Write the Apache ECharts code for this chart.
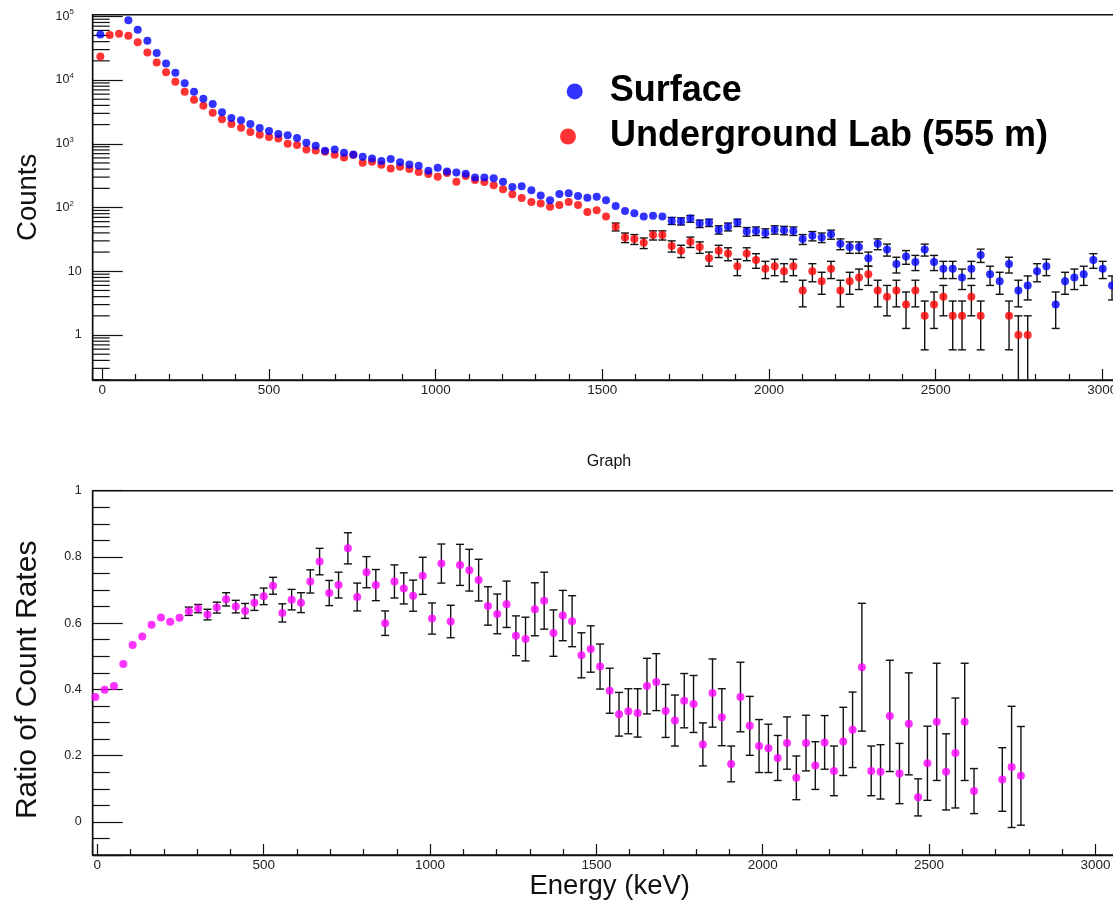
<!DOCTYPE html>
<html><head><meta charset="utf-8">
<script src="https://cdn.jsdelivr.net/npm/echarts@6/dist/echarts.min.js"></script>
<style>html,body{margin:0;padding:0;background:#fff;overflow:hidden}#c{width:1140px;height:904px}</style>
</head><body><div id="c"></div><script>
// ---------- data ----------
const energy = [-6,22,50,78,106,135,163,191,219,247,275,303,331,359,387,416,444,472,500,528,556,584,612,640,668,697,725,753,781,809,837,865,893,921,949,978,1006,1034,1062,1090,1118,1146,1174,1202,1230,1258,1287,1315,1343,1371,1399,1427,1455,1483,1511,1540,1568,1596,1624,1652,1680,1708,1736,1764,1792,1820,1849,1877,1905,1933,1961,1989,2017,2045,2073,2101,2130,2158,2186,2214,2242,2270,2298,2326,2354,2382,2411,2439,2467,2495,2523,2551,2579,2607,2635,2663,2692,2720,2748,2776,2804,2832,2860,2888,2916,2944,2973,3001,3029];
const surface = [52000,108000,109000,87000,61600,41400,26500,18200,13000,8870,6560,5090,4200,3110,2540,2330,2040,1770,1585,1420,1355,1230,1040,933,778,817,724,682,627,590,536,576,511,475,453,378,421,369,356,339,297,297,287,254,210,215,186,154,130,163,167,152,143,148,130,106,88,81,72,74,72,62,61,67,56,58,45,50,58,42,43,40,45,44,43,32,36,34,38,27,24,24,16,27,22,13,17,14,22,14,11,11,8,11,18,9,7,13,5,6,10,12,3,7,8,9,15,11,6];
const underground = [23300,51000,53000,49500,39000,27100,18900,13300,9400,6560,4910,3950,3070,2420,2040,1790,1530,1390,1275,1215,1000,955,817,788,752,674,612,667,505,523,470,411,437,401,360,335,305,347,254,312,270,251,223,193,161,141,122,116,103,110,122,110,85,91,72,50,34,32,28,37,37,25,21,29,24,16,21,19,12,19,15,11,12,10,12,5,10,7,11,5,7,8,9,5,4,5,3,5,2,3,4,2,2,4,2,null,null,2,1,1];
const ratio = [0.377,0.399,0.41,0.477,0.534,0.56,0.595,0.617,0.604,0.616,0.636,0.644,0.626,0.647,0.672,0.65,0.637,0.662,0.681,0.713,0.631,0.671,0.662,0.726,0.786,0.691,0.715,0.826,0.679,0.754,0.715,0.6,0.726,0.705,0.683,0.743,0.614,0.78,0.605,0.776,0.76,0.73,0.652,0.628,0.657,0.562,0.552,0.642,0.668,0.57,0.623,0.606,0.503,0.522,0.469,0.396,0.325,0.334,0.329,0.41,0.422,0.335,0.306,0.366,0.356,0.234,0.389,0.316,0.175,0.377,0.29,0.229,0.222,0.193,0.238,0.133,0.238,0.17,0.24,0.154,0.243,0.278,0.467,0.154,0.151,0.32,0.146,0.296,0.074,0.177,0.302,0.151,0.208,0.302,0.093,null,null,0.128,0.166,0.139];
const ratioErr = [0.004,0.004,0.004,0.005,0.005,0.006,0.007,0.007,0.008,0.01,0.0125,0.0125,0.016,0.0165,0.02,0.019,0.0225,0.0235,0.025,0.0255,0.0275,0.031,0.03,0.035,0.04,0.038,0.039,0.047,0.042,0.047,0.047,0.037,0.05,0.047,0.047,0.056,0.047,0.059,0.049,0.062,0.063,0.063,0.058,0.06,0.07,0.06,0.066,0.08,0.086,0.07,0.076,0.077,0.068,0.07,0.068,0.068,0.066,0.068,0.073,0.084,0.086,0.08,0.077,0.082,0.086,0.065,0.103,0.086,0.054,0.105,0.089,0.08,0.073,0.068,0.079,0.066,0.084,0.072,0.081,0.075,0.103,0.114,0.193,0.075,0.082,0.168,0.091,0.154,0.056,0.112,0.177,0.115,0.166,0.177,0.068,null,null,0.096,0.183,0.149];
const seriesNames = ['Surface', 'Underground Lab (555 m)'];
const titles = {graph: 'Graph', counts: 'Counts', ratio: 'Ratio of Count Rates', energy: 'Energy (keV)'};

// ---------- layout ----------
const X_TOP = [-29, 3100], X_BOT = [-14, 3121];
const Y_TOP = [0.197, 105900], Y_BOT = [-0.1, 1.0];

function hasFont(name) {
  const c = document.createElement('canvas').getContext('2d');
  c.font = '40px monospace'; const w1 = c.measureText('1000 0.8 Energy').width;
  c.font = '40px "' + name + '", monospace'; const w2 = c.measureText('1000 0.8 Energy').width;
  return Math.abs(w1 - w2) > 0.5;
}
const narrow = hasFont('Liberation Sans Narrow');
const TF = narrow ? 'Liberation Sans Narrow' : 'Liberation Sans';
const TFS = narrow ? 16.5 : 13.5;
const TFSY = narrow ? 15 : 12.5;
const MAIN = 'Liberation Sans, Arial, Helvetica, sans-serif';

function pts(vals) { const o = []; vals.forEach((v, i) => { if (v != null) o.push([energy[i], v]); }); return o; }
function poissonErr(vals) { const o = []; vals.forEach((v, i) => { if (v != null) { const e = Math.sqrt(v); o.push([energy[i], v - e, v + e, v]); } }); return o; }
function ratioErrPts() { const o = []; ratio.forEach((v, i) => { if (v != null) o.push([energy[i], v - ratioErr[i], v + ratioErr[i], v]); }); return o; }

function errRender(logAxis) {
  return function (params, api) {
    const cs = params.coordSys;
    const top = cs.y, bot = cs.y + cs.height;
    const x = api.value(0);
    let lo = api.value(1), hi = api.value(2);
    const c = api.value(3);
    if (logAxis && lo <= 0) lo = 1e-6;
    const a = api.coord([x, hi]), b = api.coord([x, lo]), m = api.coord([x, c]);
    let y1 = a[1], y2 = b[1];
    if (y2 < top || y1 > bot) return null;
    const capTop = y1 >= top, capBot = y2 <= bot;
    y1 = Math.max(y1, top); y2 = Math.min(y2, bot);
    if (m[1] - y1 < 3.5 && y2 - m[1] < 3.5) return null;
    const st = {stroke: '#111', lineWidth: 1.4};
    const cap = 4;
    const ch = [{type: 'line', shape: {x1: a[0], y1: y1, x2: a[0], y2: y2}, style: st}];
    if (capTop) ch.push({type: 'line', shape: {x1: a[0] - cap, y1: y1, x2: a[0] + cap, y2: y1}, style: st});
    if (capBot) ch.push({type: 'line', shape: {x1: a[0] - cap, y1: y2, x2: a[0] + cap, y2: y2}, style: st});
    return {type: 'group', children: ch};
  };
}

// minor ticks of the log axis (2..9 x 10^n)
const logMinor = [];
for (let d = -1; d <= 4; d++) for (let m = 2; m <= 9; m++) {
  const v = m * Math.pow(10, d);
  if (v >= Y_TOP[0] && v <= Y_TOP[1]) logMinor.push([X_TOP[0], v]);
}

const axisLineStyle = {color: '#111', width: 1.4};
const tickStyle = {color: '#111', width: 1.2};
const noSep = function (v) { return String(Math.round(v)); };
const chart = echarts.init(document.getElementById('c'), null, {renderer: 'canvas'});
chart.setOption({
  animation: false,
  backgroundColor: '#fff',
  textStyle: {fontFamily: MAIN},
  grid: [
    {left: 92.7, top: 14.7, right: 4.3, bottom: 524, show: true, borderColor: '#111', borderWidth: 1.4, containLabel: false, outerBoundsMode: 'none'},
    {left: 92.7, top: 490.7, right: 4.3, bottom: 49, show: true, borderColor: '#111', borderWidth: 1.4, containLabel: false, outerBoundsMode: 'none'}
  ],
  graphic: [{type: 'text', x: 609, y: 462, style: {text: titles.graph, font: '16px ' + MAIN, fill: '#111', textAlign: 'center', textVerticalAlign: 'middle'}}],
  legend: [
    {data: [seriesNames[0]], left: 561.7, top: 68.4, itemWidth: 16, itemHeight: 16, itemGap: 0,
     textStyle: {fontFamily: MAIN, fontWeight: 'bold', fontSize: 36, color: '#000', padding: [0, 0, 0, 22]}},
    {data: [seriesNames[1]], left: 555, top: 113.5, itemWidth: 16, itemHeight: 16, itemGap: 0,
     textStyle: {fontFamily: MAIN, fontWeight: 'bold', fontSize: 36, color: '#000', padding: [0, 0, 0, 29]}}
  ],
  xAxis: [
    {type: 'value', gridIndex: 0, min: X_TOP[0], max: X_TOP[1], splitNumber: 6,
     axisLine: {show: true, onZero: false, lineStyle: axisLineStyle}, splitLine: {show: false},
     axisTick: {inside: true, length: 11, lineStyle: tickStyle},
     minorTick: {show: true, splitNumber: 5, length: 6, lineStyle: tickStyle},
     axisLabel: {showMinLabel: false, showMaxLabel: false, margin: 3, fontFamily: TF, fontSize: TFS, color: '#222', formatter: noSep}},
    {type: 'value', gridIndex: 1, min: X_BOT[0], max: X_BOT[1], splitNumber: 6,
     name: titles.energy, nameLocation: 'middle', nameGap: 17,
     nameTextStyle: {fontFamily: MAIN, fontSize: 27.5, color: '#111', padding: [0, 9, 0, 0]},
     axisLine: {show: true, onZero: false, lineStyle: axisLineStyle}, splitLine: {show: false},
     axisTick: {inside: true, length: 11, lineStyle: tickStyle},
     minorTick: {show: true, splitNumber: 5, length: 6, lineStyle: tickStyle},
     axisLabel: {showMinLabel: false, showMaxLabel: false, margin: 3, fontFamily: TF, fontSize: TFS, color: '#222', formatter: noSep}}
  ],
  yAxis: [
    {type: 'log', logBase: 10, gridIndex: 0, min: Y_TOP[0], max: Y_TOP[1],
     name: titles.counts, nameLocation: 'middle', nameGap: 50,
     nameTextStyle: {fontFamily: MAIN, fontSize: 27.5, color: '#111'},
     axisLine: {show: true, onZero: false, lineStyle: axisLineStyle}, splitLine: {show: false},
     axisTick: {inside: true, length: 30, lineStyle: tickStyle},
     axisLabel: {showMinLabel: false, showMaxLabel: false, margin: 11, fontFamily: TF, fontSize: TFSY, color: '#222',
       formatter: function (v) { const n = Math.round(Math.log10(v)); if (n === 0) return '1'; if (n === 1) return '10'; return '{b|10}{s|' + n + '}'; },
       rich: {b: {fontFamily: TF, fontSize: TFSY, color: '#222'}, s: {fontFamily: TF, fontSize: TFSY * 0.62, color: '#222', verticalAlign: 'top', padding: [0, 8, 8, 0]}}}},
    {type: 'value', gridIndex: 1, min: Y_BOT[0], max: Y_BOT[1], splitNumber: 5,
     name: titles.ratio, nameLocation: 'middle', nameGap: 50,
     nameTextStyle: {fontFamily: MAIN, fontSize: 30, color: '#111', padding: [0, 14, 0, 0]},
     axisLine: {show: true, onZero: false, lineStyle: axisLineStyle}, splitLine: {show: false},
     axisTick: {inside: true, length: 30, lineStyle: tickStyle},
     minorTick: {show: true, splitNumber: 4, length: 17, lineStyle: tickStyle},
     axisLabel: {showMinLabel: false, margin: 11, fontFamily: TF, fontSize: TFSY, color: '#222'}}
  ],
  series: [
    {type: 'custom', name: 'logMinorTicks', xAxisIndex: 0, yAxisIndex: 0, silent: true, z: 1,
     data: logMinor, encode: {x: 0, y: 1},
     renderItem: function (params, api) {
       const p = api.coord([api.value(0), api.value(1)]);
       return {type: 'line', shape: {x1: p[0], y1: p[1], x2: p[0] + 17, y2: p[1]}, style: {stroke: '#111', lineWidth: 1.2}};
     }},
    {type: 'custom', name: 'ugErr', xAxisIndex: 0, yAxisIndex: 0, silent: true, z: 2,
     data: poissonErr(underground), encode: {x: 0, y: [1, 2]}, renderItem: errRender(true)},
    {type: 'scatter', name: seriesNames[1], xAxisIndex: 0, yAxisIndex: 0, z: 3, clip: true,
     data: pts(underground), symbol: 'circle', symbolSize: 8, itemStyle: {color: '#ff0000'}},
    {type: 'custom', name: 'sfErr', xAxisIndex: 0, yAxisIndex: 0, silent: true, z: 4,
     data: poissonErr(surface), encode: {x: 0, y: [1, 2]}, renderItem: errRender(true)},
    {type: 'scatter', name: seriesNames[0], xAxisIndex: 0, yAxisIndex: 0, z: 5, clip: true,
     data: pts(surface), symbol: 'circle', symbolSize: 8, itemStyle: {color: '#0000ff'}},
    {type: 'custom', name: 'ratioErr', xAxisIndex: 1, yAxisIndex: 1, silent: true, z: 2,
     data: ratioErrPts(), encode: {x: 0, y: [1, 2]}, renderItem: errRender(false)},
    {type: 'scatter', name: 'ratio', xAxisIndex: 1, yAxisIndex: 1, z: 3, clip: true,
     data: pts(ratio), symbol: 'circle', symbolSize: 8, itemStyle: {color: '#ff00ff'}}
  ]
});
</script></body></html>
